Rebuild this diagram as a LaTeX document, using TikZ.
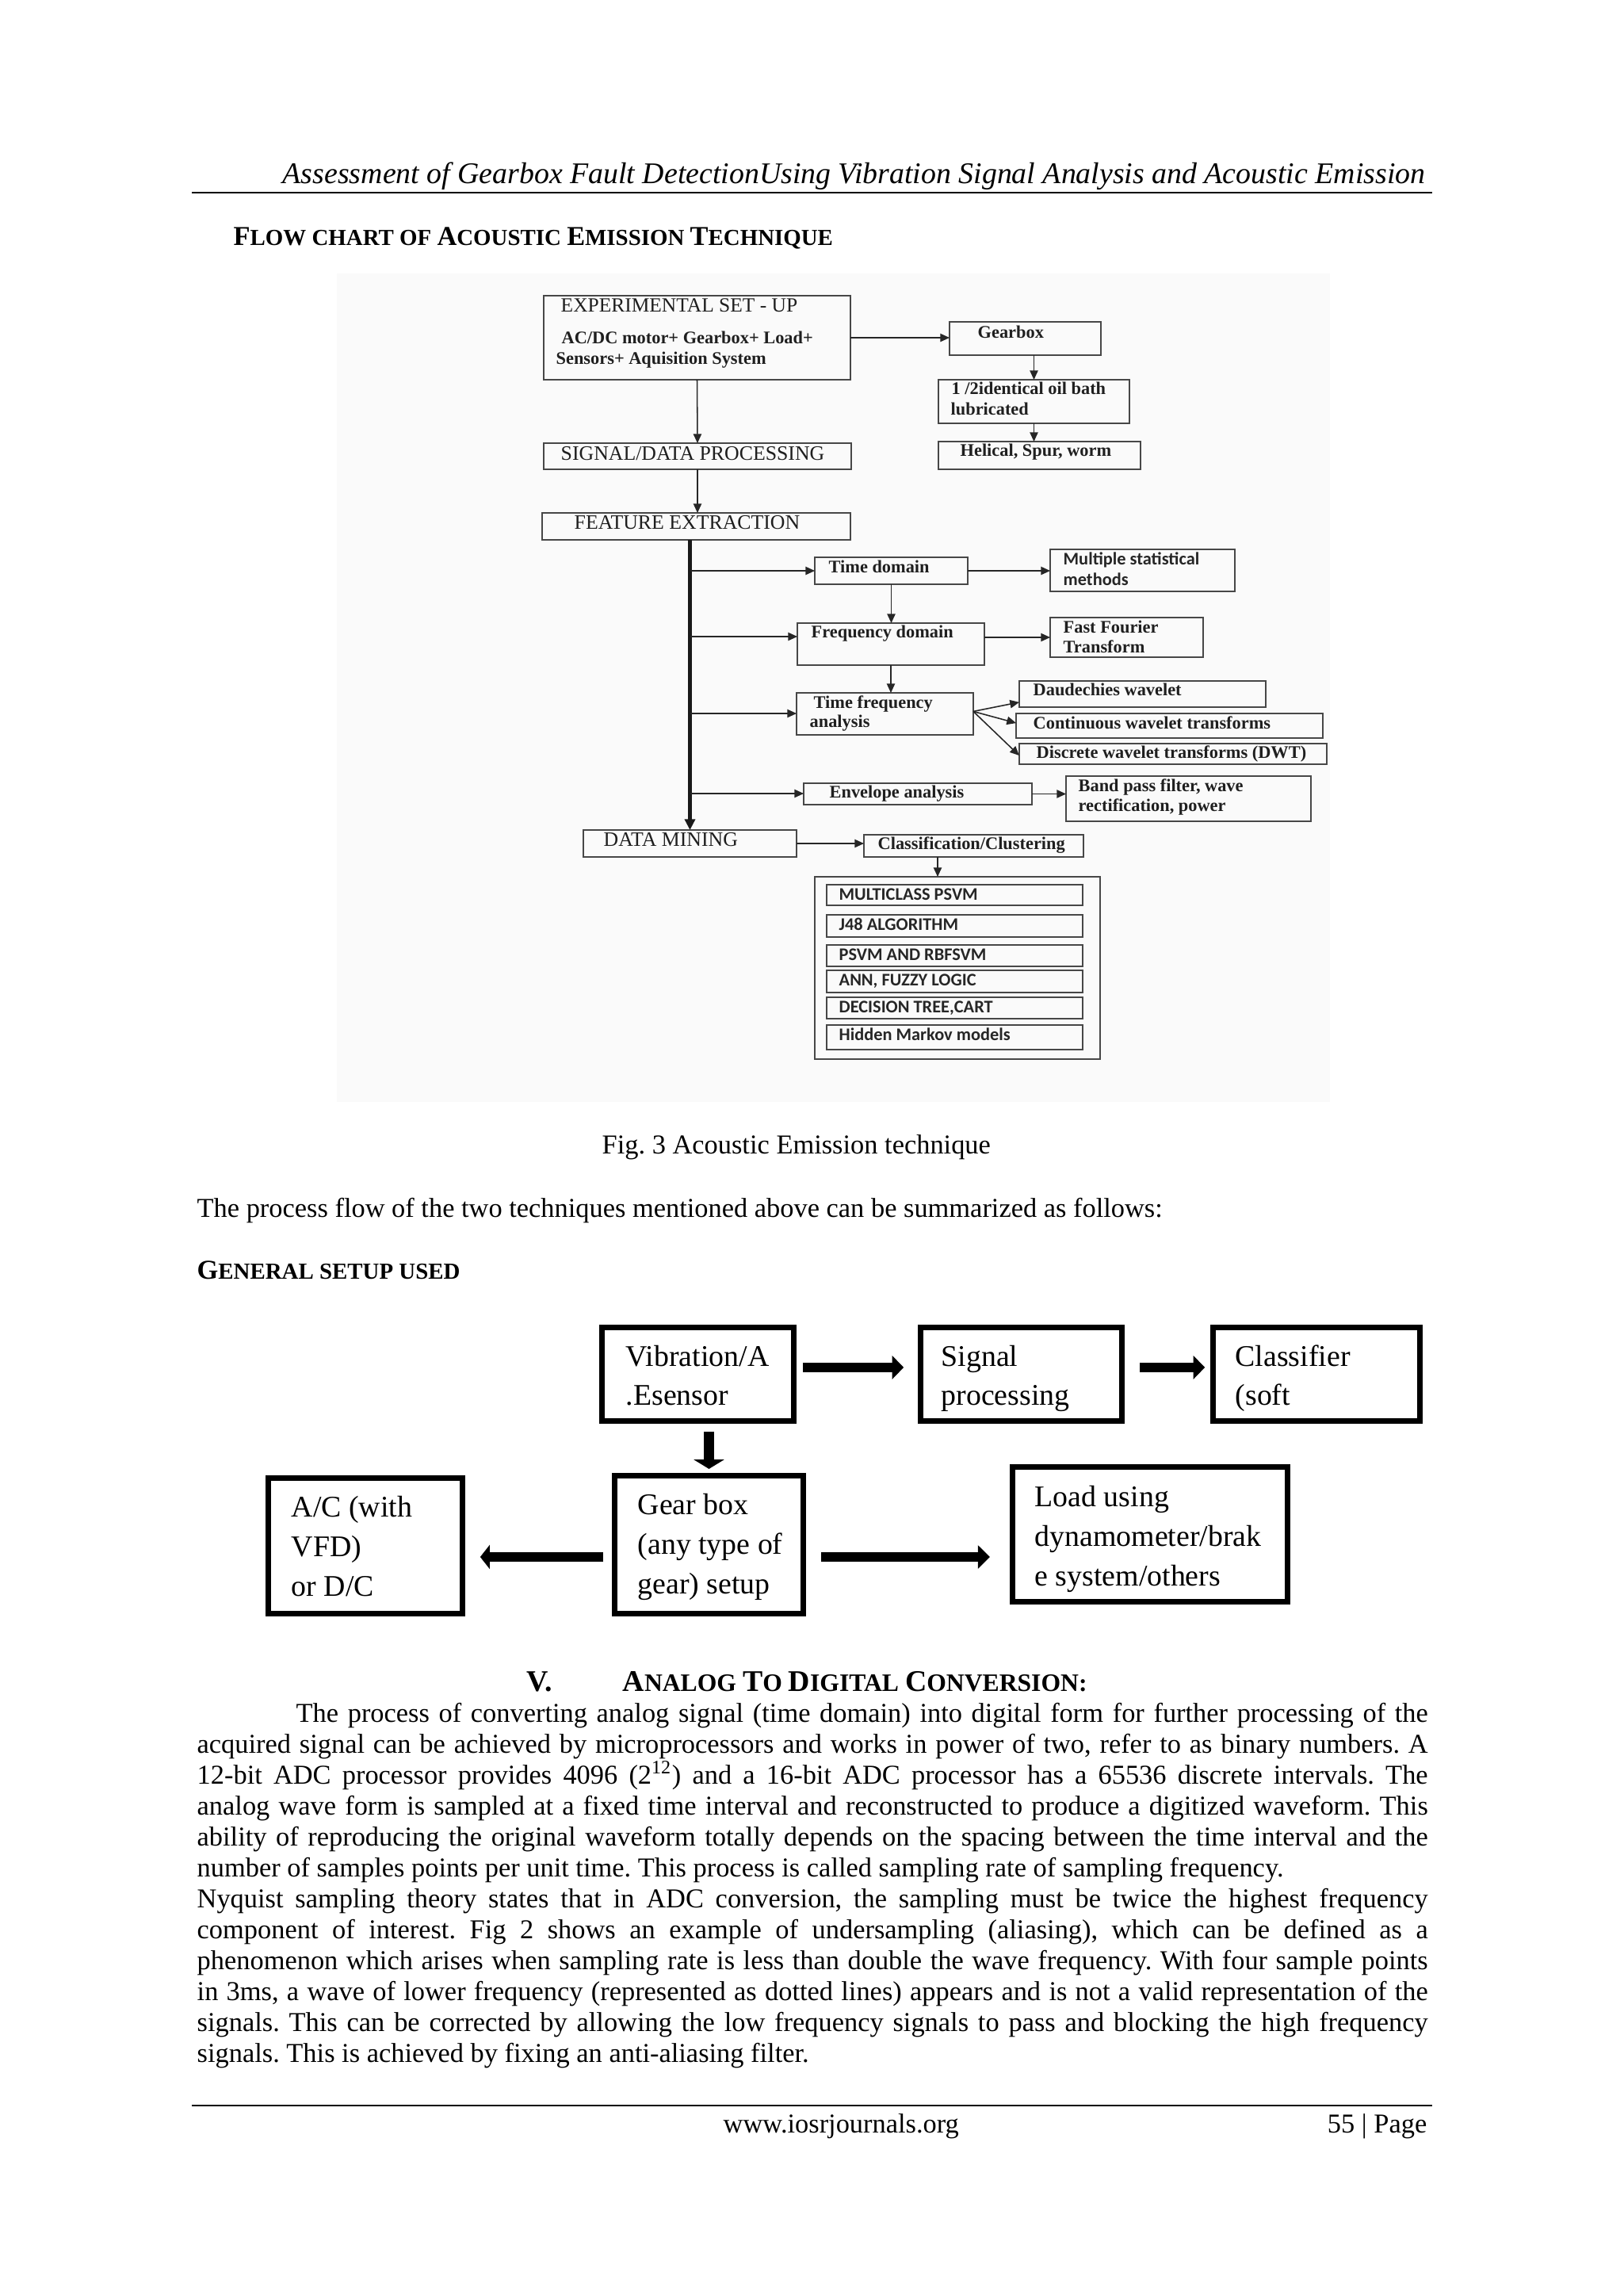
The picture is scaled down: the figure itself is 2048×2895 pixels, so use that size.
\documentclass[tikz,border=0pt]{standalone}
\usepackage{fontspec}
\setmainfont{Liberation Serif}
\newfontfamily\calfont{Carlito}
\usetikzlibrary{arrows.meta}
\frenchspacing
\newlength\tw \setlength\tw{451.4pt}
\newlength\twi \setlength\twi{415.1pt}
\newcommand\jl[1]{\makebox[\tw][s]{#1}}
\newcommand\jli[1]{\makebox[\twi][s]{#1}}
\newcommand\smc[1]{{\fontsize{8.4}{9}\selectfont #1}}
\newcommand\smcb[1]{{\fontsize{9.2}{10}\selectfont #1}}
\newcommand\bx[6]{\node[#6, minimum width={(#4-#2)*0.29066pt}, minimum height={(#5-#3)*0.29066pt}, anchor=north west] (#1) at (#2,#3) {};}
\definecolor{figbg}{RGB}{250,250,250}
\tikzset{
  fbox/.style={draw=black!72, line width=0.6pt, inner sep=0pt, outer sep=0pt},
  tbox/.style={draw=black, line width=2pt, inner sep=0pt, outer sep=0pt},
  arr/.style={draw=black!85, line width=0.45pt, -{Triangle[length=3.4pt,width=3pt]}},
  trunk/.style={draw=black!90, line width=1.2pt, -{Triangle[length=4pt,width=3.8pt]}},
  blk/.style={line width=3.5pt, -{Triangle[length=4.2pt,width=8.4pt]}},
  blkd/.style={line width=4pt, -{Triangle[length=3.4pt,width=11pt]}},
  ttl/.style={anchor=base west, inner sep=0pt, text=black!88, font=\fontsize{7.5}{9}\selectfont},
  bld/.style={anchor=base west, inner sep=0pt, text=black!88, font=\fontsize{6.5}{8}\selectfont\bfseries},
  sns/.style={anchor=base west, inner sep=0pt, text=black!85, font=\fontsize{6.5}{8}\selectfont\calfont\bfseries},
  txt/.style={anchor=base west, inner sep=0pt, font=\fontsize{10}{12}\selectfont},
  big/.style={anchor=base west, inner sep=0pt, font=\fontsize{11}{13}\selectfont},
}
\begin{document}
\begin{tikzpicture}[x=0.29066pt,y=-0.29066pt]
\useasboundingbox (0,0) rectangle (2048,2895);
\fill[white] (0,0) rectangle (2048,2895);
% header
\node[anchor=base east, inner sep=0pt, font=\fontsize{11}{13}\selectfont\itshape] (hdr) at (1799,231) {Assessment of Gearbox Fault DetectionUsing Vibration Signal Analysis and Acoustic Emission};
\coordinate (hr1) at (242,243); \coordinate (hr2) at (1807,243);
\draw[line width=0.6pt] (hr1) -- (hr2);
\node[txt, font=\fontsize{10}{12}\selectfont\bfseries] (fch) at (294,309) {F\smc{LOW CHART OF }A\smc{COUSTIC }E\smc{MISSION }T\smc{ECHNIQUE}};
% figure background
\fill[figbg] (425,345) rectangle (1678,1390);
% ---- flow chart
\bx{exp}{686}{373}{1073}{479}{fbox}
\bx{sig}{686}{559}{1074}{592}{fbox}
\bx{feat}{684}{647}{1073}{681}{fbox}
\bx{gear}{1198}{406}{1389}{448}{fbox}
\bx{ob}{1184}{479}{1425}{534}{fbox}
\bx{hel}{1184}{557}{1439}{592}{fbox}
\bx{td}{1028}{703}{1221}{737}{fbox}
\bx{ms}{1325}{693}{1558}{746}{fbox}
\bx{fd}{1006}{786}{1242}{839}{fbox}
\bx{fft}{1325}{779}{1518}{829}{fbox}
\bx{tf}{1005}{874}{1228}{927}{fbox}
\bx{dw}{1286}{859}{1597}{892}{fbox}
\bx{cw}{1282}{900}{1669}{931}{fbox}
\bx{dwt}{1286}{938}{1674}{964}{fbox}
\bx{ev}{1014}{988}{1302}{1015}{fbox}
\bx{bp}{1345}{979}{1654}{1036}{fbox}
\bx{dm}{736}{1047}{1005}{1081}{fbox}
\bx{cc}{1090}{1053}{1367}{1081}{fbox}
\bx{cont}{1028}{1106}{1388}{1336}{fbox}
\bx{la}{1043}{1116}{1366}{1142}{fbox}
\bx{lb}{1043}{1154}{1366}{1182}{fbox}
\bx{lc}{1043}{1192}{1366}{1219}{fbox}
\bx{ld}{1043}{1224}{1366}{1252}{fbox}
\bx{le}{1043}{1258}{1366}{1285}{fbox}
\bx{lf}{1043}{1293}{1366}{1324}{fbox}
% texts
\node[ttl, font=\fontsize{7.4}{9}\selectfont] (t1) at (707,393) {EXPERIMENTAL SET - UP};
\node[bld] (t2) at (708,433) {AC/DC motor+ Gearbox+ Load+};
\node[bld] (t3) at (701,459) {Sensors+ Aquisition System};
\node[ttl] (t4) at (707,580) {SIGNAL/DATA PROCESSING};
\node[ttl] (t5) at (724,667) {FEATURE EXTRACTION};
\node[ttl] (t6) at (761,1067) {DATA MINING};
\node[bld] (t7) at (1233,426) {Gearbox};
\node[bld] (t8) at (1200,497) {1 /2identical oil bath};
\node[bld] (t9) at (1199,523) {lubricated};
\node[bld] (t10) at (1211,575) {Helical, Spur, worm};
\node[bld] (t11) at (1045,722) {Time domain};
\node[sns] (t12) at (1341,712) {Multiple statistical};
\node[sns] (t13) at (1341,738) {methods};
\node[bld] (t14) at (1023,804) {Frequency domain};
\node[bld] (t15) at (1341,798) {Fast Fourier};
\node[bld] (t16) at (1341,823) {Transform};
\node[bld] (t17) at (1026,893) {Time frequency};
\node[bld] (t18) at (1021,917) {analysis};
\node[bld] (t19) at (1303,877) {Daudechies wavelet};
\node[bld] (t20) at (1303,919) {Continuous wavelet transforms};
\node[bld] (t21) at (1307,956) {Discrete wavelet transforms (DWT)};
\node[bld] (t22) at (1046,1006) {Envelope analysis};
\node[bld] (t23) at (1360,998) {Band pass filter, wave};
\node[bld] (t24) at (1360,1023) {rectification, power};
\node[bld] (t25) at (1107,1071) {Classification/Clustering};
\node[sns] (t26) at (1058,1135) {MULTICLASS PSVM};
\node[sns] (t27) at (1058,1173) {J48 ALGORITHM};
\node[sns] (t28) at (1058,1211) {PSVM AND RBFSVM};
\node[sns] (t29) at (1058,1243) {ANN, FUZZY LOGIC};
\node[sns] (t30) at (1058,1277) {DECISION TREE,CART};
\node[sns] (t31) at (1058,1312) {Hidden Markov models};
% connectors
\draw[arr] (exp.east) -- (exp.east -| gear.west);
\draw[arr] (exp.south) -- (sig.north);
\draw[arr] (sig.south) -- (sig.south |- feat.north);
\draw[arr] (ob.north |- gear.south) -- (ob.north);
\draw[arr] (ob.south) -- (ob.south |- hel.north);
\draw[trunk] (dm.north |- feat.south) -- (dm.north);
\coordinate (b1) at (871,720);
\coordinate (b2) at (871,803);
\coordinate (b3) at (871,900);
\coordinate (b4) at (871,1001);
\draw[arr] (b1) -- (b1 -| td.west);
\draw[arr] (b2) -- (b2 -| fd.west);
\draw[arr] (b3) -- (b3 -| tf.west);
\draw[arr] (b4) -- (b4 -| ev.west);
\draw[arr] (td.east) -- (td.east -| ms.west);
\draw[arr] (fft.west -| fd.east) -- (fft.west);
\draw[arr] (td.south) -- (td.south |- fd.north);
\draw[arr] (fd.south) -- (fd.south |- tf.north);
\coordinate (tfo) at ([yshift=0.9pt]tf.east);
\draw[arr] (tfo) -- ([yshift=-3pt]dw.west);
\draw[arr] (tfo) -- ([yshift=1pt]cw.west);
\draw[arr] (tfo) -- ([yshift=-0.6pt]dwt.west);
\draw[arr] (ev.east) -- (ev.east -| bp.west);
\draw[arr] (dm.east) -- (dm.east -| cc.west);
\coordinate (ccd) at (1183,1090);
\draw[arr] (cc.south -| ccd) -- (cont.north -| ccd);
% captions
\node[txt] (cap) at (759,1455) {Fig. 3 Acoustic Emission technique};
\node[txt] (pf) at (248,1535) {The process flow of the two techniques mentioned above can be summarized as follows:};
\node[txt, font=\fontsize{10}{12}\selectfont\bfseries] (gsu) at (248,1613) {G\smc{ENERAL SETUP USED}};
% ---- general setup diagram
\bx{vib}{759.5}{1674.5}{1001.5}{1792.5}{tbox}
\bx{sigp}{1161.5}{1674.5}{1415.5}{1792.5}{tbox}
\bx{cls}{1530.5}{1674.5}{1791.5}{1792.5}{tbox}
\bx{gb}{775.5}{1861.5}{1013.5}{2035.5}{tbox}
\bx{ac}{338.5}{1864.5}{583.5}{2035.5}{tbox}
\bx{load}{1277.5}{1850.5}{1624.5}{2020.5}{tbox}
\node[big] (v1) at (789,1723) {Vibration/A};
\node[big] (v2) at (789,1772) {.Esensor};
\node[big] (s1) at (1187,1723) {Signal};
\node[big] (s2) at (1187,1772) {processing};
\node[big] (c1) at (1558,1723) {Classifier};
\node[big] (c2) at (1558,1772) {(soft};
\node[big] (g1) at (804,1910) {Gear box};
\node[big] (g2) at (804,1960) {(any type of};
\node[big] (g3) at (804,2010) {gear) setup};
\node[big] (a1) at (367,1913) {A/C (with};
\node[big] (a2) at (367,1963) {VFD)};
\node[big] (a3) at (367,2013) {or D/C};
\node[big] (l1) at (1305,1900) {Load using};
\node[big] (l2) at (1305,1950) {dynamometer/brak};
\node[big] (l3) at (1305,2000) {e system/others};
\draw[blk, shorten >=6.2pt] ([xshift=3.3pt,yshift=2.5pt]vib.east) -- ([yshift=2.5pt]sigp.west);
\draw[blk, shorten >=3pt] ([xshift=6.5pt,yshift=2.5pt]sigp.east) -- ([yshift=2.5pt]cls.west);
\draw[blkd, shorten <=3.9pt, shorten >=2.5pt] (vib.south -| gb.north) -- (gb.north);
\coordinate (gbr) at ([yshift=-4.5pt]gb.east);
\coordinate (gbl) at ([yshift=-4.5pt]gb.west);
\draw[blk, -{Triangle[length=3.5pt,width=8.7pt]}, shorten >=6.5pt] ([xshift=-4.2pt]gbl) -- (gbl -| ac.east);
\draw[blk, -{Triangle[length=4.4pt,width=8.4pt]}, shorten >=8.3pt] ([xshift=6.5pt]gbr) -- (gbr -| load.west);
% ---- section V
\node[txt, font=\fontsize{11}{13}\selectfont\bfseries] (sv) at (664,2133) {V.};
\node[txt, font=\fontsize{11}{13}\selectfont\bfseries] (svt) at (785,2133) {A\smcb{NALOG }T\smcb{O }D\smcb{IGITAL }C\smcb{ONVERSION:}};
\node[txt] (p1) at (373,2172) {\jli{The process of converting analog signal (time domain) into digital form for further processing of the}};
\node[txt] (p2) at (248,2211) {\jl{acquired signal can be achieved by microprocessors and works in power of two, refer to as binary numbers. A}};
\node[txt] (p3) at (248,2250) {\jl{12-bit ADC processor provides 4096 (2\textsuperscript{12}) and a 16-bit ADC processor has a 65536 discrete intervals. The}};
\node[txt] (p4) at (248,2289) {\jl{analog wave form is sampled at a fixed time interval and reconstructed to produce a digitized waveform. This}};
\node[txt] (p5) at (248,2328) {\jl{ability of reproducing the original waveform totally depends on the spacing between the time interval and the}};
\node[txt] (p6) at (248,2367) {number of samples points per unit time. This process is called sampling rate of sampling frequency.};
\node[txt] (p7) at (248,2406) {\jl{Nyquist sampling theory states that in ADC conversion, the sampling must be twice the highest frequency}};
\node[txt] (p8) at (248,2445) {\jl{component of interest. Fig 2 shows an example of undersampling (aliasing), which can be defined as a}};
\node[txt] (p9) at (248,2484) {\jl{phenomenon which arises when sampling rate is less than double the wave frequency. With four sample points}};
\node[txt] (p10) at (248,2523) {\jl{in 3ms, a wave of lower frequency (represented as dotted lines) appears and is not a valid representation of the}};
\node[txt] (p11) at (248,2562) {\jl{signals. This can be corrected by allowing the low frequency signals to pass and blocking the high frequency}};
\node[txt] (p12) at (248,2601) {signals. This is achieved by fixing an anti-aliasing filter.};
% footer
\coordinate (fr1) at (242,2656); \coordinate (fr2) at (1807,2656);
\draw[line width=0.6pt] (fr1) -- (fr2);
\node[txt] (web) at (912,2690) {www.iosrjournals.org};
\node[anchor=base east, inner sep=0pt, font=\fontsize{10}{12}\selectfont] (pg) at (1801,2690) {55 | Page};
\end{tikzpicture}
\end{document}
